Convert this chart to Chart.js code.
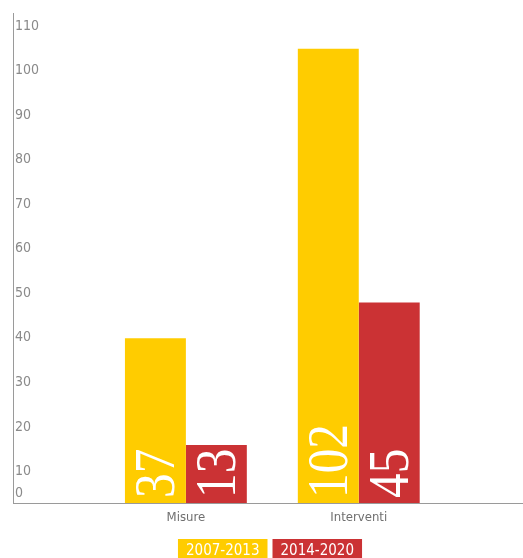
<!DOCTYPE html>
<html>
<head>
<meta charset="utf-8">
<script src="https://cdn.jsdelivr.net/npm/chart.js@4/dist/chart.umd.min.js"></script>
<style>
  body { margin: 0; background: #fff; }
  #wrap { width: 523px; height: 558px; }
</style>
</head>
<body>
<div id="wrap"><canvas id="myChart" width="523" height="558"></canvas></div>
<script>
// categories and series
var categories = ['Misure', 'Interventi'];
var periods = ['2007-2013', '2014-2020'];
var values2007 = [37, 102];
var values2014 = [13, 45];
var yTicks = [0, 10, 20, 30, 40, 50, 60, 70, 80, 90, 100, 110];

var yellow = '#FFCC00';
var red = '#CB3234';
var font = '"DejaVu Sans Condensed", "DejaVu Sans", sans-serif';

function toPoints(vals) {
    return vals.map(function (v, i) { return { x: i + 1, y: v }; });
}

// y labels sit just under their value, the 0 just above the axis
var yLabels = {
    id: 'yLabels',
    afterDraw: function (chart) {
        var ctx = chart.ctx;
        var ys = chart.scales.y;
        ctx.save();
        ctx.font = '14px ' + font;
        ctx.fillStyle = '#8a8a8a';
        ctx.textAlign = 'left';
        ctx.textBaseline = 'middle';
        ys.ticks.forEach(function (t) {
            var py = ys.getPixelForValue(t.value);
            ctx.fillText(String(t.value), chart.chartArea.left + 2, t.value === 0 ? py - 10 : py + 13);
        });
        ctx.restore();
    }
};

// big white rotated numbers at the foot of each bar
var barNumbers = {
    id: 'barNumbers',
    afterDatasetsDraw: function (chart) {
        var ctx = chart.ctx;
        chart.data.datasets.forEach(function (ds, di) {
            var meta = chart.getDatasetMeta(di);
            meta.data.forEach(function (bar, i) {
                ctx.save();
                ctx.translate(bar.x, bar.base - 5);
                ctx.rotate(-Math.PI / 2);
                ctx.scale(0.85, 1);
                ctx.font = '58px "Liberation Serif", serif';
                ctx.fillStyle = '#ffffff';
                ctx.textAlign = 'left';
                ctx.textBaseline = 'alphabetic';
                ctx.fillText(String(ds.data[i].y), 0, 19);
                ctx.restore();
            });
        });
    }
};

// legend as coloured boxes with the label inside
var boxLegend = {
    id: 'boxLegend',
    afterDraw: function (chart) {
        var ctx = chart.ctx;
        var ca = chart.chartArea;
        ctx.save();
        ctx.font = '15px ' + font;
        var pad = 8, gap = 5, h = 22, top = 539;
        var widths = chart.data.datasets.map(function (ds) { return ctx.measureText(ds.label).width + pad * 2; });
        var total = widths.reduce(function (a, b) { return a + b; }, 0) + gap * (widths.length - 1);
        var x = (ca.left + ca.right) / 2 - total / 2 + 2;
        chart.data.datasets.forEach(function (ds, i) {
            ctx.fillStyle = ds.backgroundColor;
            ctx.fillRect(x, top, widths[i], h);
            ctx.fillStyle = '#ffffff';
            ctx.textAlign = 'center';
            ctx.textBaseline = 'middle';
            ctx.fillText(ds.label, x + widths[i] / 2, top + h / 2 + 1);
            x += widths[i] + gap;
        });
        ctx.restore();
    }
};

var ctx = document.getElementById('myChart').getContext('2d');
var myChart = new Chart(ctx, {
    type: 'bar',
    data: {
        datasets: [{
            label: periods[0],
            data: toPoints(values2007),
            backgroundColor: yellow
        }, {
            label: periods[1],
            data: toPoints(values2014),
            backgroundColor: red
        }]
    },
    options: {
        responsive: false,
        animation: false,
        layout: { padding: { left: 13, top: 13, right: 0, bottom: 0 } },
        categoryPercentage: 0.705,
        barPercentage: 1,
        plugins: {
            legend: { display: false },
            tooltip: { enabled: false }
        },
        scales: {
            x: {
                type: 'linear',
                offset: false,
                min: 0,
                max: 2.95,
                grid: { display: false, offset: false },
                border: { display: true, color: '#9a9a9a' },
                ticks: {
                    stepSize: 1,
                    includeBounds: false,
                    autoSkip: false,
                    maxRotation: 0,
                    padding: -1,
                    color: '#6f6f6f',
                    font: { family: font, size: 13 },
                    callback: function (v) { return categories[v - 1] || ''; }
                },
                afterFit: function (s) { s.height = 55; }
            },
            y: {
                min: yTicks[0],
                max: yTicks[yTicks.length - 1],
                grid: { display: false },
                border: { display: true, color: '#9a9a9a' },
                ticks: { display: false, stepSize: 10 },
                afterFit: function (s) { s.width = 0; }
            }
        }
    },
    plugins: [yLabels, barNumbers, boxLegend]
});
</script>
</body>
</html>
